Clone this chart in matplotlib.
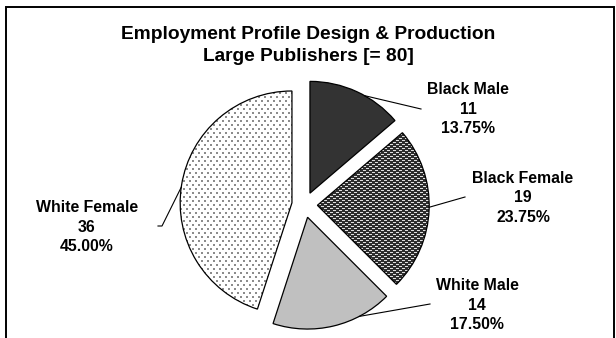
import numpy as np
import matplotlib
matplotlib.use("Agg")
import matplotlib.pyplot as plt
from matplotlib.patches import Rectangle

# --- data -------------------------------------------------------------
categories = ["Black Male", "Black Female", "White Male", "White Female"]
counts = [11, 19, 14, 36]
total = 80
title_lines = ["Employment Profile Design & Production", "Large Publishers [= 80]"]

# --- styling ----------------------------------------------------------
face_colors = ["#333333", "#333333", "#c0c0c0", "#ffffff"]
textures = [None, "dash", None, "dots"]

W, H = 616, 338
plt.rcParams["font.family"] = ["Liberation Sans", "DejaVu Sans"]

fig = plt.figure(figsize=(W / 100, H / 100), dpi=100)
ax = fig.add_axes([0, 0, 1, 1])


def Y(y):
    """Convert a top-down pixel row into the axes' bottom-up coordinate."""
    return H - y


def make_texture(kind):
    """Pixel-level fill patterns (RGB image the size of the figure)."""
    yy, xx = np.mgrid[0:H, 0:W]
    img = np.ones((H, W, 3))
    if kind == "dash":
        img[:] = 0.18
        row_a = (yy % 4 == 0) & (xx % 6 < 3)
        row_b = (yy % 4 == 2) & (xx % 6 >= 3)
        img[row_a | row_b] = 0.88
    elif kind == "dots":
        img[:] = 1.0
        d1 = (yy % 8 < 2) & (xx % 6 < 2)
        d2 = ((yy - 4) % 8 < 2) & ((xx - 3) % 6 < 2)
        img[d1 | d2] = 0.55
    return img


cx, cy, r = 304.6, Y(204.8), 111.8
wedges, _ = ax.pie(
    counts,
    radius=r,
    center=(cx, cy),
    startangle=90,
    counterclock=False,
    explode=[12.8] * len(counts),
    colors=face_colors,
    wedgeprops=dict(edgecolor="black", linewidth=0.9),
)

for w, tex in zip(wedges, textures):
    if tex is None:
        continue
    im = ax.imshow(make_texture(tex), extent=(0, W, 0, H), origin="upper",
                   interpolation="nearest", zorder=w.get_zorder() - 0.1)
    im.set_clip_path(w)
    w.set_facecolor("none")

ax.set_xlim(0, W)
ax.set_ylim(0, H)
ax.set_aspect("equal")
ax.axis("off")

# outer frame
ax.add_patch(Rectangle((5.5, Y(345)), 608, 345 - 6.5, facecolor="none",
                       edgecolor="black", linewidth=1.4, clip_on=False))

# title
ax.text(308, Y(45.5), "\n".join(title_lines), ha="center", va="center",
        fontsize=13.8, fontweight="bold", linespacing=1.4)

# data labels with leader lines
label_pos = [(468, 109), (523, 198), (477, 305), (87, 227)]
leader_angles = [60.7, -1.0, -62.5, 172.0]
leader_ends = [[(421, 109)], [(465, 197)], [(430, 304)], [(162, 226), (158, 226)]]

for w, cat, n, (lx, ly), ang, ends in zip(wedges, categories, counts,
                                          label_pos, leader_angles, leader_ends):
    pct = n / total * 100
    ax.text(lx, Y(ly), f"{cat}\n{n}\n{pct:.2f}%", ha="center", va="center",
            fontsize=11.4, fontweight="bold", linespacing=1.4)
    a = np.deg2rad(ang)
    px = w.center[0] + w.r * np.cos(a)
    py = w.center[1] + w.r * np.sin(a)
    xs = [px] + [e[0] for e in ends]
    ys = [py] + [Y(e[1]) for e in ends]
    ax.plot(xs, ys, color="black", linewidth=0.8, zorder=5)

fig.savefig("out.png", dpi=100, facecolor="white")
